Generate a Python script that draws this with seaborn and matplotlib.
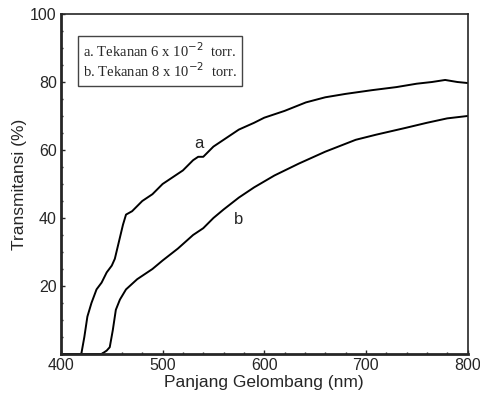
import numpy as np
import pandas as pd
import matplotlib
matplotlib.use('Agg')
import matplotlib.pyplot as plt
from matplotlib.ticker import MultipleLocator
import seaborn as sns

# Sample a: pressure 6 x 10^-2 torr
wl_a = [400, 420, 423, 426, 430, 435, 440, 445, 450, 453, 457, 461, 464, 470,
        480, 490, 500, 510, 520, 530, 535, 540, 550, 560, 575, 590, 600, 620,
        641, 660, 680, 706, 730, 750, 765, 778, 790, 800]
tr_a = [0, 0, 5, 11, 15, 19, 21, 24, 26, 28, 33, 38, 41, 42,
        45, 47, 50, 52, 54, 57, 58, 58, 61, 63, 66, 68, 69.5, 71.5,
        74, 75.5, 76.5, 77.6, 78.5, 79.5, 80, 80.6, 80, 79.7]

# Sample b: pressure 8 x 10^-2 torr
wl_b = [400, 440, 445, 448, 451, 454, 458, 464, 475, 490, 500, 515, 530, 540,
        550, 560, 575, 590, 610, 634, 660, 690, 710, 739, 760, 780, 800]
tr_b = [0, 0, 1, 2, 7, 13, 16, 19, 22, 25, 27.5, 31, 35, 37,
        40, 42.5, 46, 49, 52.5, 56, 59.5, 63, 64.5, 66.5, 68, 69.3, 70]

legend_lines = ['a. Tekanan 6 x 10$^{-2}$  torr.',
                'b. Tekanan 8 x 10$^{-2}$  torr.']

sns.set_style('ticks')
plt.rcParams['font.family'] = ['Liberation Sans', 'DejaVu Sans']

df = pd.concat([
    pd.DataFrame({'wl': wl_a, 'T': tr_a, 'sampel': 'a'}),
    pd.DataFrame({'wl': wl_b, 'T': tr_b, 'sampel': 'b'}),
])

fig = plt.figure(figsize=(4.8, 4.0), dpi=100)
ax = fig.add_axes([0.127, 0.115, 0.847, 0.850])

sns.lineplot(data=df, x='wl', y='T', units='sampel', estimator=None,
             color='black', linewidth=1.4, ax=ax, legend=False)

ax.set_xlim(400, 800)
ax.set_ylim(0, 100)
ax.set_xticks([400, 500, 600, 700, 800])
ax.set_yticks([20, 40, 60, 80, 100])
ax.xaxis.set_minor_locator(MultipleLocator(20))
ax.yaxis.set_minor_locator(MultipleLocator(5))
ax.tick_params(which='both', direction='in', length=3, width=1, labelsize=11.5, pad=3)
ax.tick_params(which='minor', length=1.5)
for s in ax.spines.values():
    s.set_visible(True)
    s.set_linewidth(1.2)
ax.spines['left'].set_linewidth(2)
ax.spines['bottom'].set_linewidth(2)

ax.set_xlabel('Panjang Gelombang (nm)', fontsize=12.5, labelpad=1)
ax.set_ylabel('Transmitansi (%)', fontsize=12.5, labelpad=2)

ax.text(536, 62, 'a', fontsize=12, ha='center', va='center')
ax.text(575, 39.5, 'b', fontsize=12, ha='center', va='center')

ax.text(0.055, 0.862, '\n'.join(legend_lines), transform=ax.transAxes,
        family=['Liberation Serif', 'DejaVu Serif'], fontsize=10.5, va='center',
        ha='left', linespacing=1.1,
        bbox=dict(boxstyle='square,pad=0.35', fc='white', ec='#444444', lw=1))

fig.savefig('out.png', dpi=100)
